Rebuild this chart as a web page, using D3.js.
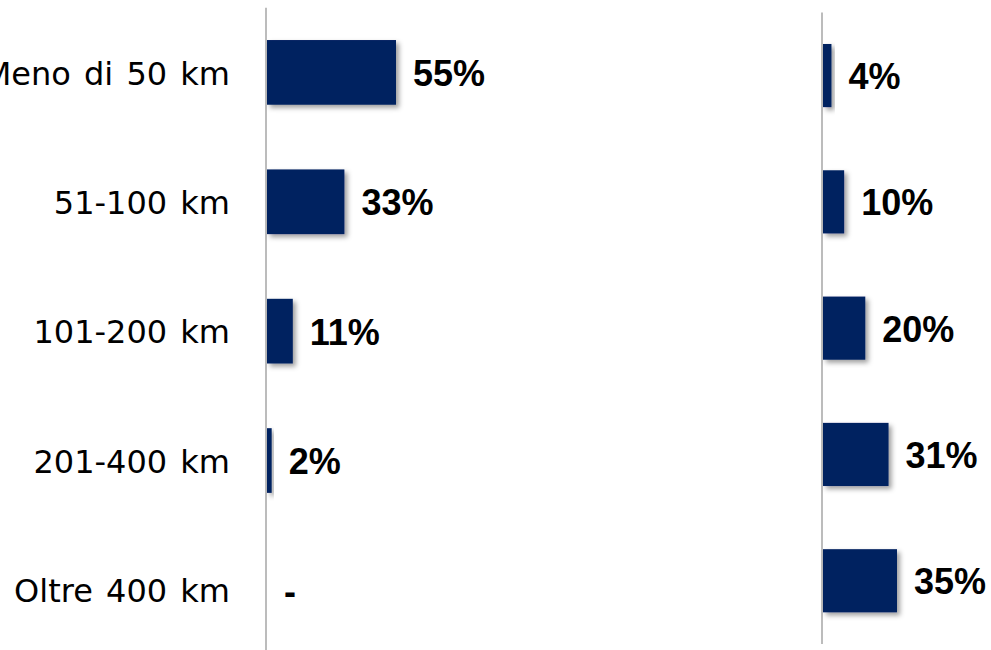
<!DOCTYPE html>
<html>
<head>
<meta charset="utf-8">
<script src="https://cdn.jsdelivr.net/npm/d3@7"></script>
<style>
  html, body { margin: 0; padding: 0; background: #ffffff; }
  svg { display: block; }
</style>
</head>
<body>
<svg id="chart" width="991" height="650"></svg>
<script>
// ---- data ----
const categories = ["Meno di 50 km", "51-100 km", "101-200 km", "201-400 km", "Oltre 400 km"];
const leftValues = [55, 33, 11, 2, 0];
const rightValues = [4, 10, 20, 31, 35];
const valueLabel = v => v === 0 ? "-" : v + "%";

// ---- layout ----
const barColor = "#002060";
const axisColor = "#a6a6a6";
const svg = d3.select("#chart");

const defs = svg.append("defs");
const f = defs.append("filter").attr("id", "shadow")
  .attr("x", "-20%").attr("y", "-20%").attr("width", "160%").attr("height", "160%");
f.append("feDropShadow").attr("dx", 3).attr("dy", 3).attr("stdDeviation", 2.5)
  .attr("flood-color", "#000").attr("flood-opacity", 0.38);

function panel(values, opts) {
  const y = d3.scaleBand().domain(categories).range([opts.y0, opts.y1])
    .paddingInner(0.5).paddingOuter(0.25);
  const x = d3.scaleLinear().domain([0, opts.dmax]).range([opts.x0, opts.x0 + opts.w]);
  const g = svg.append("g");
  g.append("line")
    .attr("x1", opts.x0 - 1).attr("x2", opts.x0 - 1)
    .attr("y1", opts.y0).attr("y2", opts.y1)
    .attr("stroke", axisColor).attr("stroke-width", 1.5);
  const rows = values.map((v, i) => ({v, c: categories[i]}));
  g.selectAll("rect").data(rows.filter(d => d.v > 0))
    .join("rect")
    .attr("x", x(0)).attr("y", d => y(d.c))
    .attr("width", d => x(d.v) - x(0)).attr("height", y.bandwidth())
    .attr("fill", barColor).attr("filter", "url(#shadow)");
  g.selectAll("text.val").data(rows)
    .join("text").attr("class", "val")
    .attr("x", d => x(d.v) + 17)
    .attr("y", d => y(d.c) + y.bandwidth() / 2 + 1)
    .attr("dy", "0.35em")
    .attr("font-family", "'Century Gothic', 'Liberation Sans', Arial, sans-serif")
    .attr("font-weight", "bold").attr("font-size", 36)
    .attr("fill", "#000")
    .text(d => valueLabel(d.v));
  return y;
}

const yLeft = panel(leftValues, {x0: 267, w: 129, dmax: 55, y0: 7.7, y1: 654.6});
panel(rightValues, {x0: 823, w: 74, dmax: 35, y0: 12.4, y1: 643.9});

// category labels
svg.append("g").selectAll("text").data(categories).join("text")
  .attr("x", 230)
  .attr("y", d => yLeft(d) + yLeft.bandwidth() / 2 + 1)
  .attr("dy", "0.35em")
  .attr("text-anchor", "end")
  .attr("font-family", "'Century Gothic', 'DejaVu Sans', sans-serif")
  .attr("font-size", 32)
  .attr("word-spacing", 3)
  .attr("fill", "#000")
  .text(d => d);
</script>
</body>
</html>
